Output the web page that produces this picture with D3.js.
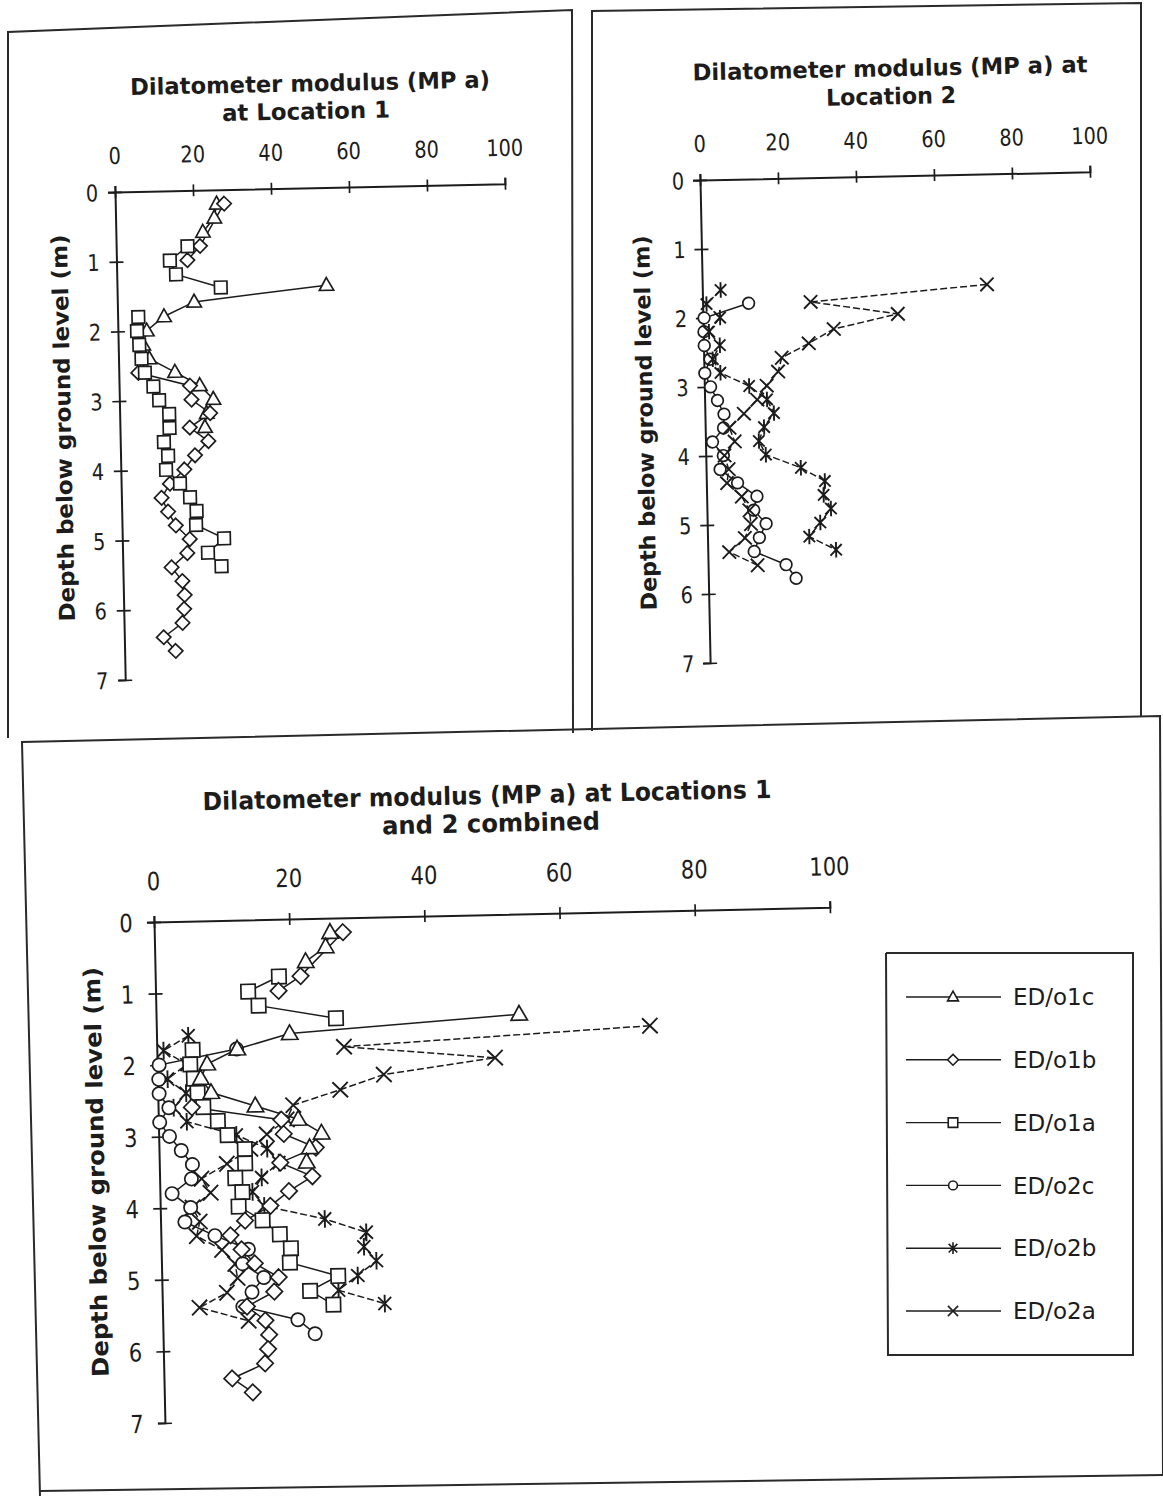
<!DOCTYPE html>
<html>
<head>
<meta charset="utf-8">
<script src="https://cdn.jsdelivr.net/npm/d3@7"></script>
<style>
  body { margin: 0; background: #fff; }
  svg { display: block; }
</style>
</head>
<body>
<svg id="chart" width="1163" height="1496"></svg>
<script>
// Dilatometer modulus (MPa) against depth below ground level (m).
// Readings are every 0.2 m; null marks a depth with no reading (line break).

const xTicks = [0, 20, 40, 60, 80, 100];
const yTicks = [0, 1, 2, 3, 4, 5, 6, 7];

// Location 1
const o1cDepth = [0.2, 0.4, 0.6, 0.8, 1.0, 1.2, 1.4, 1.6, 1.8, 2.0, 2.2, 2.4, 2.6, 2.8, 3.0, 3.2, 3.4];
const o1cValue = [26.0, 25.3, 22.3, null, null, null, 53.7, 19.7, 11.9, 7.4, 6.4, 7.9, 14.4, 20.7, 24.1, 22.3, 21.8];

const o1bDepth = [0.2, 0.8, 1.0, 1.2, 2.6, 2.8, 3.0, 3.2, 3.4, 3.6, 3.8, 4.0, 4.2, 4.4, 4.6, 4.8, 5.0, 5.2, 5.4, 5.6, 5.8, 6.0, 6.2, 6.4, 6.6];
const o1bValue = [27.9, 21.5, 18.2, null, 5.0, 18.2, 18.5, 23.2, 17.9, 22.6, 19.1, 16.3, 12.5, 10.3, 11.9, 13.8, 17.3, 16.6, 12.5, 15.2, 15.7, 15.5, 15.0, 10.1, 13.1];

const o1aDepth = [0.8, 1.0, 1.2, 1.4, 1.6, 1.8, 2.0, 2.2, 2.4, 2.6, 2.8, 3.0, 3.2, 3.4, 3.6, 3.8, 4.0, 4.2, 4.4, 4.6, 4.8, 5.0, 5.2, 5.4];
const o1aValue = [18.3, 13.7, 15.2, 26.6, null, 5.3, 4.9, 5.4, 5.9, 6.7, 8.8, 10.2, 12.7, 12.7, 11.2, 12.2, 11.6, 15.1, 17.6, 19.2, 19.0, 26.1, 21.9, 25.3];

// Location 2
const o2cDepth = [1.8, 2.0, 2.2, 2.4, 2.6, 2.8, 3.0, 3.2, 3.4, 3.6, 3.8, 4.0, 4.2, 4.4, 4.6, 4.8, 5.0, 5.2, 5.4, 5.6, 5.8];
const o2cValue = [11.8, 0.3, 0.2, 0.2, 1.6, 0.2, 1.6, 3.3, 4.9, 4.7, 1.8, 4.5, 3.6, 8.0, 12.9, 12.0, 15.1, 13.3, 11.9, 20.0, 22.5];

const o2bDepth = [1.6, 1.8, 2.0, 2.2, 2.4, 2.6, 2.8, 3.0, 3.2, 3.4, 3.6, 3.8, 4.0, 4.2, 4.4, 4.6, 4.8, 5.0, 5.2, 5.4];
const o2bValue = [4.7, 1.0, 4.4, 1.5, 4.2, 2.3, 4.2, 11.5, 16.0, 17.7, 15.1, 13.7, 15.4, 24.3, 30.4, 30.0, 31.8, 29.0, 26.1, 32.9];

const o2aDepth = [1.6, 1.8, 2.0, 2.2, 2.4, 2.6, 2.8, 3.0, 3.2, 3.4, 3.6, 3.8, 4.0, 4.2, 4.4, 4.6, 4.8, 5.0, 5.2, 5.4, 5.6];
const o2aValue = [73.0, 27.7, 50.0, 33.5, 27.0, 20.0, 19.0, 16.0, 13.5, 10.0, 6.2, 7.5, 4.8, 5.8, 5.3, 9.0, 10.9, 11.2, 9.6, 5.5, 12.7];

const seriesNames = ["ED/o1c", "ED/o1b", "ED/o1a", "ED/o2c", "ED/o2b", "ED/o2a"];

const series = {
  "ED/o1c": { depth: o1cDepth, value: o1cValue, marker: "triangle" },
  "ED/o1b": { depth: o1bDepth, value: o1bValue, marker: "diamond" },
  "ED/o1a": { depth: o1aDepth, value: o1aValue, marker: "square" },
  "ED/o2c": { depth: o2cDepth, value: o2cValue, marker: "circle" },
  "ED/o2b": { depth: o2bDepth, value: o2bValue, marker: "asterisk", dash: "7,3" },
  "ED/o2a": { depth: o2aDepth, value: o2aValue, marker: "cross", dash: "7,3" }
};

const INK = "#1c1c1c";
const FONT = "'DejaVu Sans', 'Noto Sans', sans-serif";

const svg = d3.select("#chart");

// Outline of a marker of the given type, k = scale factor
function markerPath(type, k) {
  const p = d3.path();
  const s = 6 * k;
  switch (type) {
    case "triangle":
      p.moveTo(0, -6.8 * k); p.lineTo(6.4 * k, 4.6 * k); p.lineTo(-6.4 * k, 4.6 * k); p.closePath(); break;
    case "diamond":
      p.moveTo(0, -6.4 * k); p.lineTo(6.4 * k, 0); p.lineTo(0, 6.4 * k); p.lineTo(-6.4 * k, 0); p.closePath(); break;
    case "square":
      p.rect(-5.6 * k, -5.6 * k, 11.2 * k, 11.2 * k); break;
    case "circle":
      p.moveTo(5.2 * k, 0); p.arc(0, 0, 5.2 * k, 0, 2 * Math.PI); break;
    case "cross":
      p.moveTo(-s, -s); p.lineTo(s, s); p.moveTo(-s, s); p.lineTo(s, -s); break;
    case "asterisk":
      p.moveTo(-s * 0.85, -s * 0.85); p.lineTo(s * 0.85, s * 0.85);
      p.moveTo(-s * 0.85, s * 0.85); p.lineTo(s * 0.85, -s * 0.85);
      p.moveTo(0, -s * 1.15); p.lineTo(0, s * 1.15); break;
  }
  return p.toString();
}

function rows(name) {
  const s = series[name];
  return s.depth.map((d, i) => ({ depth: d, value: s.value[i] }));
}

function drawPanel(cfg) {
  const rad = cfg.angle * Math.PI / 180;
  const [ox, oy] = cfg.origin;
  // page position -> panel-local position (inverse of the panel rotation)
  const toLocal = (sx, sy) => {
    const dx = sx - ox, dy = sy - oy;
    return [dx * Math.cos(rad) + dy * Math.sin(rad), -dx * Math.sin(rad) + dy * Math.cos(rad)];
  };

  const g = svg.append("g")
    .attr("transform", `translate(${ox},${oy}) rotate(${cfg.angle})`);

  const x = d3.scaleLinear().domain([0, 100]).range([0, cfg.width]);
  const y = d3.scaleLinear().domain([0, 7]).range([0, cfg.height]);

  // Modulus axis along the top
  const gx = g.append("g").call(
    d3.axisTop(x).tickValues(xTicks).tickSizeOuter(0).tickSize(6).tickFormat(d3.format("d"))
  );
  gx.select(".domain").attr("stroke", INK).attr("stroke-width", 2);
  gx.selectAll(".tick line").attr("y1", 6).attr("stroke", INK).attr("stroke-width", 1.7);
  gx.selectAll(".tick text")
    .attr("y", null).attr("dy", null)
    .attr("transform", `translate(0,${cfg.xLabelY}) scale(0.84,1)`)
    .attr("font-family", FONT).attr("font-size", cfg.tickFont).attr("fill", INK);

  // Depth axis down the left
  const gy = g.append("g").call(
    d3.axisLeft(y).tickValues(yTicks).tickSizeOuter(0).tickSize(7).tickFormat(d3.format("d"))
  );
  gy.select(".domain").attr("stroke", INK).attr("stroke-width", 2);
  gy.selectAll(".tick line").attr("x1", 7).attr("stroke", INK).attr("stroke-width", 1.7);
  gy.selectAll(".tick text")
    .attr("x", null).attr("dy", "0.36em").attr("text-anchor", "middle")
    .attr("transform", `translate(${cfg.yLabelX},0) scale(0.84,1)`)
    .attr("font-family", FONT).attr("font-size", cfg.tickFont).attr("fill", INK);
  gx.attr("font-family", null).attr("font-size", null);
  gy.attr("font-family", null).attr("font-size", null);

  // Title lines
  cfg.title.forEach(t => {
    const [lx, ly] = toLocal(t.cx, t.cy);
    g.append("text")
      .attr("x", lx).attr("y", ly).attr("dy", "0.36em")
      .attr("text-anchor", "middle")
      .attr("font-family", FONT).attr("font-weight", "bold")
      .attr("font-size", cfg.titleFont).attr("fill", INK)
      .attr("textLength", t.len).attr("lengthAdjust", "spacingAndGlyphs")
      .text(t.text);
  });

  // Depth axis title
  {
    const [lx, ly] = toLocal(cfg.yTitle.cx, cfg.yTitle.cy);
    g.append("text")
      .attr("transform", `translate(${lx},${ly}) rotate(-90)`)
      .attr("dy", "0.36em")
      .attr("text-anchor", "middle")
      .attr("font-family", FONT).attr("font-weight", "bold")
      .attr("font-size", cfg.yTitleFont).attr("fill", INK)
      .attr("textLength", cfg.yTitle.len).attr("lengthAdjust", "spacingAndGlyphs")
      .text("Depth below ground level (m)");
  }

  const line = d3.line()
    .defined(d => d.value != null)
    .x(d => x(d.value))
    .y(d => y(d.depth));

  cfg.series.forEach(name => {
    const s = series[name];
    g.append("path")
      .datum(rows(name))
      .attr("fill", "none")
      .attr("stroke", INK)
      .attr("stroke-width", 1.5)
      .attr("stroke-dasharray", s.dash || null)
      .attr("d", line);
  });

  cfg.series.forEach(name => {
    const s = series[name];
    const open = !(s.marker === "cross" || s.marker === "asterisk");
    g.append("g").selectAll("path")
      .data(rows(name).filter(d => d.value != null))
      .join("path")
      .attr("transform", d => `translate(${x(d.value)},${y(d.depth)})`)
      .attr("d", markerPath(s.marker, cfg.markerScale))
      .attr("fill", open ? "#fff" : "none")
      .attr("stroke", INK)
      .attr("stroke-width", open ? 1.7 : 1.9);
  });
}

// Panel frames
const frames = [
  [[8, 738], [8, 32], [572, 10], [573, 733]],
  [[592, 731], [592, 11], [1141, 3], [1141, 716]],
  [[40, 1496], [22, 742], [1160, 716], [1163, 1474]],
  [[40, 1491], [1163, 1475]]
];
svg.append("g").selectAll("path")
  .data(frames)
  .join("path")
  .attr("d", d => d3.line()(d))
  .attr("fill", "none")
  .attr("stroke", "#2a2a2a")
  .attr("stroke-width", 2);

drawPanel({
  origin: [115, 192], angle: -1.2, width: 390, height: 488,
  series: ["ED/o1c", "ED/o1b", "ED/o1a"], markerScale: 1.12,
  tickFont: 23, titleFont: 23, yTitleFont: 22, xLabelY: -28, yLabelX: -23,
  title: [
    { text: "Dilatometer modulus  (MP a)", cx: 310, cy: 83, len: 360 },
    { text: "at Location 1", cx: 306, cy: 111, len: 168 }
  ],
  yTitle: { cx: 63, cy: 428, len: 387 }
});

drawPanel({
  origin: [700, 180], angle: -1.2, width: 390, height: 483,
  series: ["ED/o2c", "ED/o2b", "ED/o2a"], markerScale: 1.12,
  tickFont: 23, titleFont: 23, yTitleFont: 22, xLabelY: -28, yLabelX: -22,
  title: [
    { text: "Dilatometer modulus  (MP a) at", cx: 890, cy: 68, len: 395 },
    { text: "Location 2", cx: 891, cy: 96, len: 130 }
  ],
  yTitle: { cx: 645, cy: 423, len: 375 }
});

drawPanel({
  origin: [154, 922], angle: -1.25, width: 676, height: 501,
  series: ["ED/o2a", "ED/o2b", "ED/o2c", "ED/o1a", "ED/o1b", "ED/o1c"], markerScale: 1.28,
  tickFont: 25, titleFont: 25, yTitleFont: 23, xLabelY: -32, yLabelX: -28,
  title: [
    { text: "Dilatometer modulus  (MP a) at Locations 1", cx: 487, cy: 795, len: 569 },
    { text: "and 2 combined", cx: 491, cy: 823, len: 218 }
  ],
  yTitle: { cx: 96, cy: 1172, len: 410 }
});

// Legend
const legend = svg.append("g");
legend.append("path")
  .attr("d", d3.line()([[886, 953], [1133, 953], [1133, 1355], [888, 1355], [886, 953]]))
  .attr("fill", "none").attr("stroke", "#2a2a2a").attr("stroke-width", 2);

const legendY = d3.scalePoint().domain(seriesNames).range([997, 1311]);
const items = legend.selectAll("g.item")
  .data(seriesNames)
  .join("g")
  .attr("class", "item")
  .attr("transform", d => `translate(0,${legendY(d)})`);
items.append("line")
  .attr("x1", 906).attr("x2", 1001).attr("y1", 0).attr("y2", 0)
  .attr("stroke", INK).attr("stroke-width", 1.4);
items.append("path")
  .attr("transform", "translate(953,0)")
  .attr("d", d => markerPath(series[d].marker, 0.85))
  .attr("fill", d => (series[d].marker === "cross" || series[d].marker === "asterisk") ? "none" : "#fff")
  .attr("stroke", INK).attr("stroke-width", 1.6);
items.append("text")
  .attr("x", 1013).attr("y", 0).attr("dy", "0.36em")
  .attr("font-family", FONT).attr("font-size", 23).attr("fill", INK)
  .text(d => d);
</script>
</body>
</html>
